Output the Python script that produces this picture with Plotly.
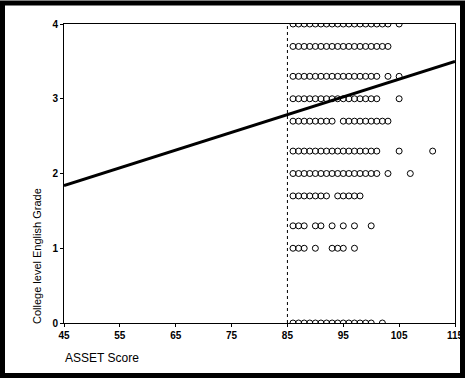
import plotly.graph_objects as go

grade_rows = {
    4.0: list(range(86, 104)) + [105],
    3.7: list(range(86, 104)),
    3.3: list(range(86, 102)) + [103, 105],
    3.0: list(range(86, 102)) + [105],
    2.7: list(range(86, 94)) + list(range(95, 104)),
    2.3: list(range(86, 102)) + [105, 111],
    2.0: list(range(86, 102)) + [103, 107],
    1.7: list(range(86, 93)) + list(range(94, 99)),
    1.3: [86, 87, 88, 90, 91, 93, 95, 97, 100],
    1.0: [86, 87, 88, 90, 93, 94, 95, 97],
    0.0: list(range(86, 101)) + [102],
}

# Fit line endpoints
fit_x = [45, 115]
fit_y = [1.84, 3.50]

x_ticks = [45, 55, 65, 75, 85, 95, 105, 115]
y_ticks = [0, 1, 2, 3, 4]

xs, ys = [], []
for g, scores in grade_rows.items():
    for s in scores:
        xs.append(s)
        ys.append(g)

W, H = 465, 379
ml, mr, mt, mb = 64, 10, 24, 56
pw, ph = W - ml - mr, H - mt - mb

def px_x(p):
    return (p - ml) / pw

def px_y(p):
    return (H - mb - p) / ph

fig = go.Figure()
fig.add_trace(go.Scatter(
    x=xs, y=ys, mode="markers",
    marker=dict(symbol="circle-open", size=6, color="black", line=dict(width=1, color="black")),
    showlegend=False, hoverinfo="skip"))
fig.add_trace(go.Scatter(
    x=fit_x, y=fit_y, mode="lines",
    line=dict(color="black", width=3), showlegend=False, hoverinfo="skip"))

fig.add_shape(type="line", xref="x", yref="y", x0=85, x1=85, y0=0, y1=4,
              line=dict(color="black", width=1, dash="dot"))

fig.add_shape(type="rect", xref="paper", yref="paper",
              x0=px_x(2.5), x1=px_x(W - 2.5), y0=px_y(H - 3.5), y1=px_y(3),
              line=dict(color="black", width=5), layer="above")

fig.add_annotation(text="ASSET Score", xref="paper", yref="paper",
                   x=px_x(63), y=px_y(358), xanchor="left", yanchor="middle",
                   showarrow=False, font=dict(family="Liberation Sans", size=12, color="black"))
fig.add_annotation(text="College level English Grade", xref="paper", yref="paper",
                   x=px_x(37), y=px_y(326), xanchor="center", yanchor="bottom",
                   textangle=-90, showarrow=False,
                   font=dict(family="Liberation Sans", size=11, color="black"))

axis_common = dict(showgrid=False, zeroline=False, showline=True, linecolor="black",
                   linewidth=1, mirror=True, ticks="outside", ticklen=3, tickcolor="black",
                   automargin=False,
                   tickfont=dict(family="Liberation Sans", size=10, color="black", weight="bold"))

fig.update_xaxes(range=[45, 115], tickvals=x_ticks, ticktext=[str(v) for v in x_ticks], **axis_common)
fig.update_yaxes(range=[0, 4], tickvals=y_ticks, ticktext=[str(v) for v in y_ticks], **axis_common)

fig.update_layout(width=W, height=H, margin=dict(l=ml, r=mr, t=mt, b=mb, autoexpand=False),
                  paper_bgcolor="white", plot_bgcolor="white")

fig.write_html("out.html", config={"displayModeBar": False, "staticPlot": True},
               post_script="document.body.style.margin='0px';document.body.style.overflow='hidden';")
